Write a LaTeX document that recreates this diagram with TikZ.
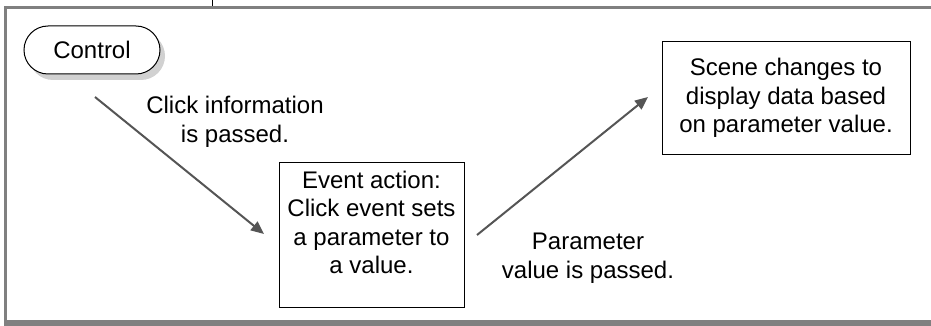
\documentclass[tikz,border=0pt]{standalone}
\usepackage{fontspec}
\setmainfont{Liberation Sans}
\usetikzlibrary{arrows.meta,shadows}
\definecolor{framegray}{RGB}{128,128,128}
\definecolor{flowgray}{RGB}{85,85,85}
\begin{document}
\begin{tikzpicture}[x=1pt,y=-1pt,
    font=\fontsize{24}{28.5}\selectfont,
    flow/.style={-{Triangle[length=13pt,width=11pt]}, line width=2pt, flowgray},
    stepbox/.style={draw, line width=1pt, inner sep=0pt},
    txt/.style={align=center, inner sep=0pt}]
  \useasboundingbox (0,0) rectangle (931,326);

  % Frame
  \fill[framegray] (3.5,6) rectangle (931,9.3);
  \fill[framegray] (3.5,6) rectangle (6.8,326);
  \fill[framegray] (3.5,320) rectangle (931,326);
  \draw[line width=1pt] (212,0) -- (212,6);

  % Control
  \node[stepbox, rounded corners=24pt, minimum width=136pt, minimum height=48pt,
        fill=white, drop shadow={shadow xshift=5pt, shadow yshift=-6pt, fill=black!18, opacity=1}]
        (control) at (92,50) {Control};

  % Event action
  \node[stepbox, minimum width=185pt, minimum height=145pt] (event) at (371.5,234.5) {};
  \node[txt, anchor=north] (eventtext) at ([yshift=-9pt]event.north)
        {Event action:\\Click event sets\\a parameter to\\a value.};

  % Scene
  \node[stepbox, minimum width=248pt, minimum height=112pt, txt] (scene) at (786,98)
        {Scene changes to\\display data based\\on parameter value.};

  % Connectors
  \coordinate (clickstart) at (95,97);
  \coordinate (clickend) at (264,234);
  \coordinate (paramstart) at (477,235);
  \coordinate (paramend) at (648,97);
  \draw[flow] (clickstart) -- (clickend);
  \draw[flow] (paramstart) -- (paramend);

  % Labels
  \node[txt] (clicklabel) at (235,122) {Click information\\is passed.};
  \node[txt] (paramlabel) at (588,258) {Parameter\\value is passed.};
\end{tikzpicture}
\end{document}
